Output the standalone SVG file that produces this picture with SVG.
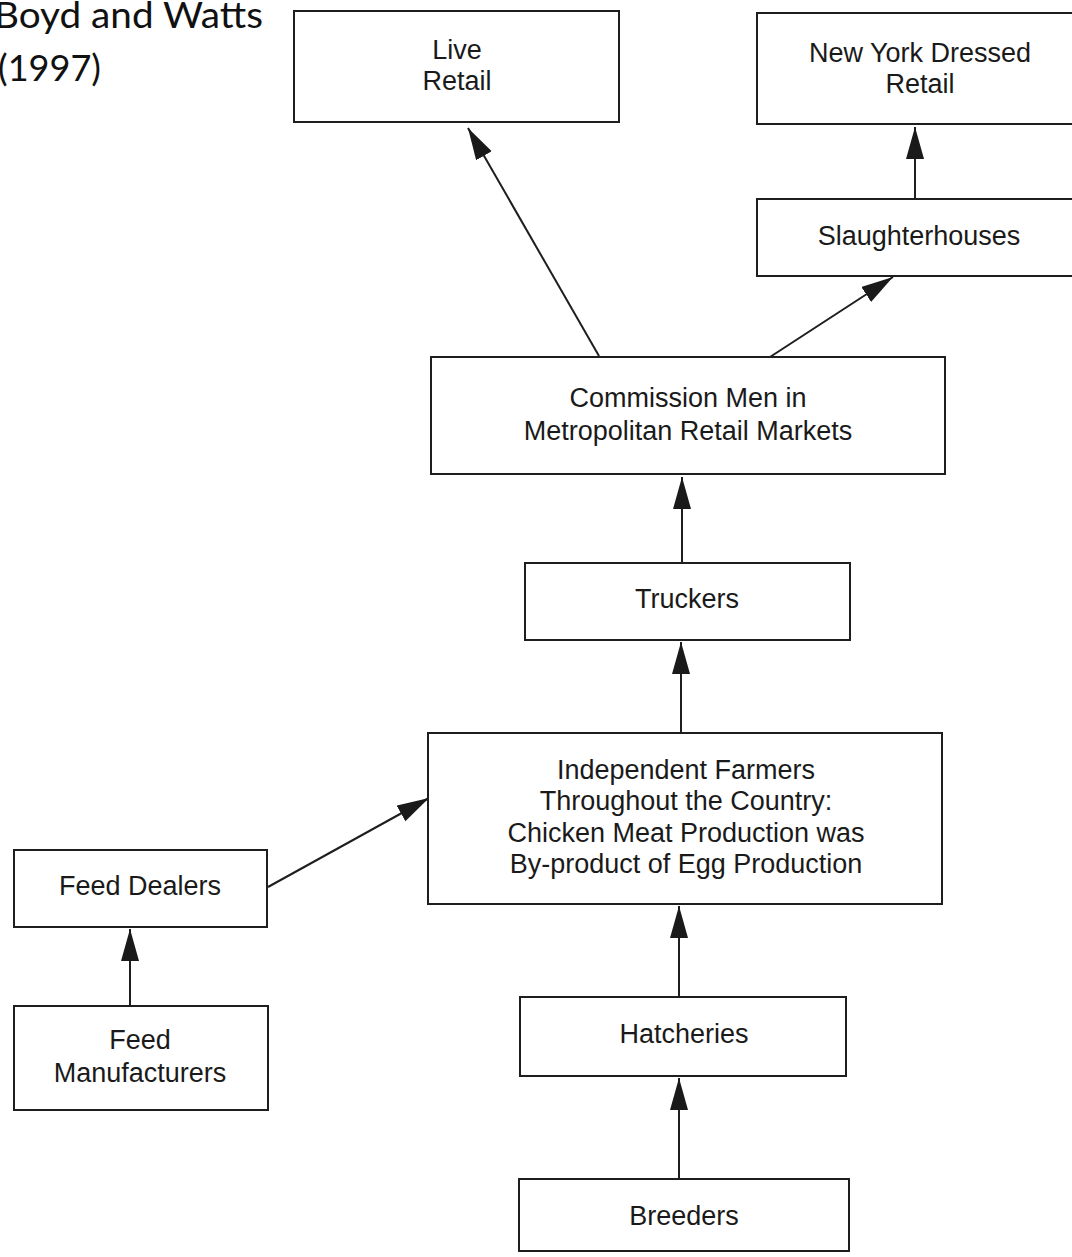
<svg xmlns="http://www.w3.org/2000/svg" width="1072" height="1257" viewBox="0 0 1072 1257">
<style>
  .box { fill: #ffffff; stroke: #1e1e1e; stroke-width: 2; }
  .lbl { font-family: "Liberation Sans", Arial, sans-serif; font-size: 27px; fill: #1a1a1a; text-anchor: middle; }
  .title { font-family: Lato, "Open Sans", sans-serif; font-size: 37px; fill: #111111; }
  .conn { stroke: #1e1e1e; stroke-width: 2; fill: none; marker-end: url(#arrow); }
</style>
<defs>
  <marker id="arrow" markerUnits="userSpaceOnUse" markerWidth="34" markerHeight="20" refX="32" refY="9" orient="auto">
    <path d="M0,0 L32,9 L0,18 Z" fill="#1a1a1a"/>
  </marker>
</defs>
<rect width="1072" height="1257" fill="#ffffff"/>

<g id="title">
  <text class="title" x="-6" y="28" textLength="269" lengthAdjust="spacingAndGlyphs">Boyd and Watts</text>
  <text class="title" x="-2" y="81" textLength="103" lengthAdjust="spacingAndGlyphs">(1997)</text>
</g>

<g id="connectors">
  <line class="conn" x1="599" y1="356" x2="468" y2="128"/>
  <line class="conn" x1="770" y1="357" x2="893" y2="277"/>
  <line class="conn" x1="915" y1="198" x2="915" y2="127"/>
  <line class="conn" x1="682" y1="562" x2="682" y2="477"/>
  <line class="conn" x1="681" y1="732" x2="681" y2="642"/>
  <line class="conn" x1="268" y1="887" x2="429" y2="798"/>
  <line class="conn" x1="130" y1="1005" x2="130" y2="929"/>
  <line class="conn" x1="679" y1="996" x2="679" y2="906"/>
  <line class="conn" x1="679" y1="1178" x2="679" y2="1078"/>
</g>

<g id="live-retail">
  <rect class="box" x="294" y="11" width="325" height="111"/>
  <text class="lbl" x="457" y="59">Live</text>
  <text class="lbl" x="457" y="90">Retail</text>
</g>

<g id="ny-dressed-retail">
  <rect class="box" x="757" y="13" width="330" height="111"/>
  <text class="lbl" x="920" y="62">New York Dressed</text>
  <text class="lbl" x="920" y="93">Retail</text>
</g>

<g id="slaughterhouses">
  <rect class="box" x="757" y="199" width="330" height="77"/>
  <text class="lbl" x="919" y="245">Slaughterhouses</text>
</g>

<g id="commission-men">
  <rect class="box" x="431" y="357" width="514" height="117"/>
  <text class="lbl" x="688" y="407">Commission Men in</text>
  <text class="lbl" x="688" y="440">Metropolitan Retail Markets</text>
</g>

<g id="truckers">
  <rect class="box" x="525" y="563" width="325" height="77"/>
  <text class="lbl" x="687" y="608">Truckers</text>
</g>

<g id="independent-farmers">
  <rect class="box" x="428" y="733" width="514" height="171"/>
  <text class="lbl" x="686" y="779">Independent Farmers</text>
  <text class="lbl" x="686" y="810">Throughout the Country:</text>
  <text class="lbl" x="686" y="842">Chicken Meat Production was</text>
  <text class="lbl" x="686" y="873">By-product of Egg Production</text>
</g>

<g id="feed-dealers">
  <rect class="box" x="14" y="850" width="253" height="77"/>
  <text class="lbl" x="140" y="895">Feed Dealers</text>
</g>

<g id="feed-manufacturers">
  <rect class="box" x="14" y="1006" width="254" height="104"/>
  <text class="lbl" x="140" y="1049">Feed</text>
  <text class="lbl" x="140" y="1082">Manufacturers</text>
</g>

<g id="hatcheries">
  <rect class="box" x="520" y="997" width="326" height="79"/>
  <text class="lbl" x="684" y="1043">Hatcheries</text>
</g>

<g id="breeders">
  <rect class="box" x="519" y="1179" width="330" height="72"/>
  <text class="lbl" x="684" y="1225">Breeders</text>
</g>
</svg>
